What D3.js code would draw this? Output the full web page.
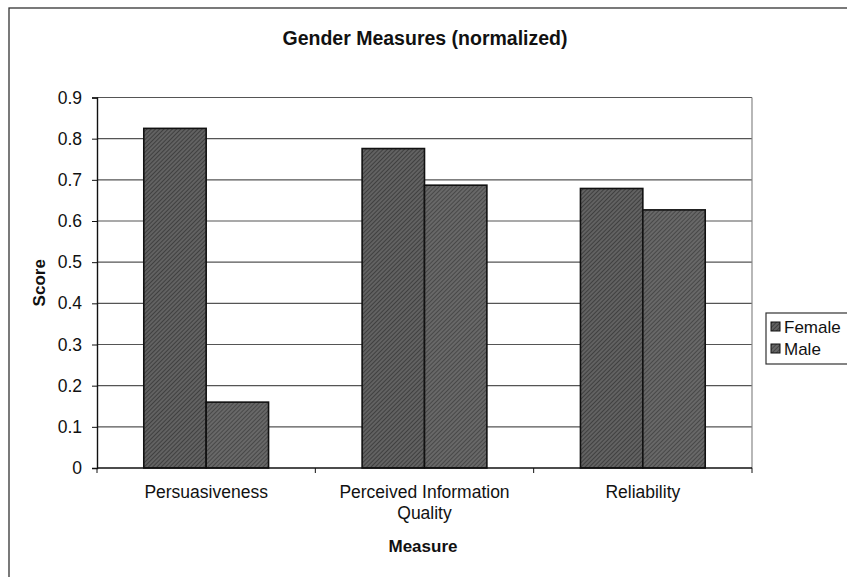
<!DOCTYPE html>
<html><head><meta charset="utf-8">
<script src="https://cdn.jsdelivr.net/npm/d3@7"></script>
<style>body{margin:0;background:#fff;} text{font-family:"Liberation Sans",Arial,sans-serif;}</style>
</head><body>
<svg id="chart" width="847" height="577"></svg>
<script>
const categories = [["Persuasiveness"], ["Perceived Information", "Quality"], ["Reliability"]];
const seriesNames = ["Female", "Male"];
const female = [0.825, 0.776, 0.679];
const male = [0.16, 0.687, 0.627];
const yTicks = [0, 0.1, 0.2, 0.3, 0.4, 0.5, 0.6, 0.7, 0.8, 0.9];

const svg = d3.select("#chart");
const W = 847, H = 577;
const m = {left: 97, right: 752, top: 97.5, bottom: 468};

const defs = svg.append("defs");
function hatch(id, base, line) {
  const p = defs.append("pattern").attr("id", id).attr("patternUnits", "userSpaceOnUse")
    .attr("width", 3).attr("height", 3).attr("patternTransform", "rotate(45)");
  p.append("rect").attr("width", 3).attr("height", 3).attr("fill", base);
  p.append("rect").attr("width", 1).attr("height", 3).attr("fill", line);
}
hatch("hF", "#626262", "#404040");
hatch("hM", "#686868", "#484848");
const fills = ["url(#hF)", "url(#hM)"];

// chart border
svg.append("rect").attr("x", 9).attr("y", 8).attr("width", W).attr("height", H)
  .attr("fill", "none").attr("stroke", "#333").attr("stroke-width", 1.3);

const x0 = d3.scaleBand().domain(d3.range(categories.length)).range([m.left, m.right]).paddingInner(0).paddingOuter(0);
const y = d3.scaleLinear().domain([0, 0.9]).range([m.bottom, m.top]);
const bw = x0.bandwidth() / 3.5;
const x1 = d3.scaleBand().domain(d3.range(2)).range([0, 2 * bw]);

// gridlines
svg.append("g").selectAll("line").data(yTicks.slice(1)).join("line")
  .attr("x1", m.left).attr("x2", m.right).attr("y1", d => y(d)).attr("y2", d => y(d))
  .attr("stroke", "#555").attr("stroke-width", 1.2);
// right plot border
svg.append("line").attr("x1", m.right).attr("x2", m.right).attr("y1", m.top).attr("y2", m.bottom)
  .attr("stroke", "#888").attr("stroke-width", 1.2);

// bars
const data = categories.map((c, i) => [female[i], male[i]]);
const groups = svg.append("g").selectAll("g").data(data).join("g")
  .attr("transform", (d, i) => `translate(${x0(i) + (x0.bandwidth() - 2 * bw) / 2},0)`);
groups.selectAll("rect").data(d => d).join("rect")
  .attr("x", (d, j) => x1(j)).attr("width", x1.bandwidth())
  .attr("y", d => y(d)).attr("height", d => y(0) - y(d))
  .attr("fill", (d, j) => fills[j]).attr("stroke", "#111").attr("stroke-width", 1.6);

// y axis
const yAxis = svg.append("g").attr("transform", `translate(${m.left},0)`)
  .call(d3.axisLeft(y).tickValues(yTicks).tickSize(5).tickPadding(10).tickFormat(d => d === 0 ? "0" : d3.format(".1f")(d)));
yAxis.select(".domain").attr("stroke", "#111").attr("stroke-width", 1.4);
yAxis.selectAll(".tick line").attr("stroke", "#111");
yAxis.selectAll("text").attr("font-size", 17.5).attr("fill", "#111").style("font-family", "Liberation Sans, Arial");

// x axis
const xAxis = svg.append("g").attr("transform", `translate(0,${m.bottom})`);
xAxis.append("line").attr("x1", m.left).attr("x2", m.right).attr("stroke", "#111").attr("stroke-width", 1.6);
xAxis.selectAll("line.t").data(d3.range(categories.length + 1)).join("line").attr("class", "t")
  .attr("x1", i => m.left + i * x0.bandwidth()).attr("x2", i => m.left + i * x0.bandwidth())
  .attr("y1", 0).attr("y2", 5).attr("stroke", "#111");
const lbl = svg.append("g").selectAll("text").data(categories).join("text")
  .attr("x", (d, i) => x0(i) + x0.bandwidth() / 2).attr("y", 498)
  .attr("text-anchor", "middle").attr("font-size", 17.5).attr("fill", "#111");
lbl.each(function(d) {
  const t = d3.select(this);
  d.forEach((s, k) => t.append("tspan").attr("x", t.attr("x")).attr("dy", k ? 21 : 0).text(s));
});

// titles
svg.append("text").attr("x", 425).attr("y", 45).attr("text-anchor", "middle")
  .attr("font-size", 19.5).attr("font-weight", "bold").attr("fill", "#111").text("Gender Measures (normalized)");
svg.append("text").attr("x", 423).attr("y", 552).attr("text-anchor", "middle")
  .attr("font-size", 17).attr("font-weight", "bold").attr("fill", "#111").text("Measure");
svg.append("text").attr("transform", `translate(45,${(m.top + m.bottom) / 2}) rotate(-90)`)
  .attr("text-anchor", "middle").attr("font-size", 17).attr("font-weight", "bold").attr("fill", "#111").text("Score");

// legend
const lg = svg.append("g").attr("transform", "translate(766,313)");
lg.append("rect").attr("width", 100).attr("height", 51).attr("fill", "#fff").attr("stroke", "#333").attr("stroke-width", 1.2);
const li = lg.selectAll("g").data(seriesNames).join("g").attr("transform", (d, i) => `translate(5,${14 + i * 22})`);
li.append("rect").attr("x", 0).attr("y", -5).attr("width", 9).attr("height", 9)
  .attr("fill", (d, i) => fills[i]).attr("stroke", "#111");
li.append("text").attr("x", 13).attr("y", 6).attr("font-size", 17).attr("fill", "#111").text(d => d);
</script>
</body></html>
